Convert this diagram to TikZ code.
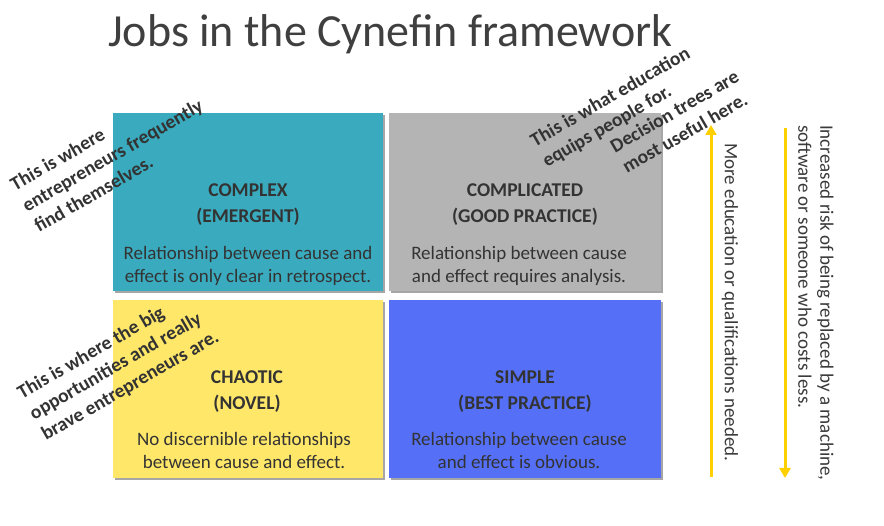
\documentclass[tikz,border=0pt]{standalone}
\usepackage{fontspec}
\setmainfont{Carlito}
\usetikzlibrary{arrows.meta,shadows}

\definecolor{cxteal}{HTML}{3AABBE}
\definecolor{cxgray}{HTML}{B4B4B4}
\definecolor{cxyellow}{HTML}{FFE769}
\definecolor{cxblue}{HTML}{5570F7}
\definecolor{ink}{HTML}{333333}
\definecolor{titleink}{HTML}{3F3F3F}
\definecolor{sideink}{HTML}{3A3A3A}
\definecolor{arrowgold}{HTML}{FFD000}

\begin{document}
\begin{tikzpicture}[x=1pt,y=-1pt,
  quad/.style={rectangle, draw=none, anchor=north west, inner sep=0pt,
    drop shadow={shadow xshift=1.5pt, shadow yshift=-2pt, opacity=0.35, fill=black}},
  head/.style={font=\fontsize{19.5}{26}\selectfont\bfseries, text=ink, align=center,
    inner sep=0pt, anchor=base},
  body/.style={font=\fontsize{19}{23}\selectfont, text=ink, align=center,
    inner sep=0pt, anchor=base},
  note/.style={font=\fontsize{19.5}{24}\selectfont\bfseries, text=ink, align=left,
    rotate=30, anchor=base west, inner sep=0pt},
  side/.style={font=\fontsize{19}{22}\selectfont, text=sideink, align=left,
    rotate=-90, anchor=west, inner sep=0pt},
  gold/.style={draw=arrowgold, line width=3pt, -{Triangle[width=11pt,length=10pt]}}
]
\useasboundingbox[fill=white] (0,0) rectangle (884,526);

% title
\node[font=\fontsize{46}{54}\selectfont, text=titleink, anchor=base west, inner sep=0pt]
  (title) at (108,47) {Jobs in the Cynefin framework};

% the four domains
\node[quad, fill=cxteal,   minimum width=270pt, minimum height=178pt] (complex)     at (113,113) {};
\node[quad, fill=cxgray,   minimum width=272pt, minimum height=178pt] (complicated) at (389,113) {};
\node[quad, fill=cxyellow, minimum width=270pt, minimum height=178pt] (chaotic)     at (113,300) {};
\node[quad, fill=cxblue,   minimum width=272pt, minimum height=178pt] (simple)      at (389,300) {};

% multi-line nodes sit on the baseline of their last line
\node[head] (complexh) at (248,223) {COMPLEX\\(EMERGENT)};
\node[body] (complexb) at (248,283) {Relationship between cause and\\effect is only clear in retrospect.};

\node[head] (complicatedh) at (525,223) {COMPLICATED\\(GOOD PRACTICE)};
\node[body] (complicatedb) at (519,283) {Relationship between cause\\and effect requires analysis.};

\node[head] (chaotich) at (247,410) {CHAOTIC\\(NOVEL)};
\node[body] (chaoticb) at (244,468) {No discernible relationships\\between cause and effect.};

\node[head] (simpleh) at (525,410) {SIMPLE\\(BEST PRACTICE)};
\node[body] (simpleb) at (519,468) {Relationship between cause\\and effect is obvious.};

% slanted remarks
\node[note] (noteA) at (39,233) {This is where\\entrepreneurs frequently\\find themselves.};
\node[note] (noteB) at (547,168) {This is what education\\equips people for.};
\node[note] (noteC) at (627,174) {Decision trees are\\most useful here.};
\node[note] (noteD) at (46,441) {This is where the big\\opportunities and really\\brave entrepreneurs are.};

% side scales
\coordinate (eduLow)  at (711,477);
\coordinate (eduHigh) at (711,125);
\coordinate (riskLow)  at (785,128);
\coordinate (riskHigh) at (785,478);
\draw[gold] (eduLow) -- (eduHigh);
\draw[gold] (riskLow) -- (riskHigh);

\node[side] (eduText) at (730,143) {More education or qualifications needed.};
\node[side] (riskText) at (816,125) {Increased risk of being replaced by a machine,\\software or someone who costs less.};
\end{tikzpicture}
\end{document}
